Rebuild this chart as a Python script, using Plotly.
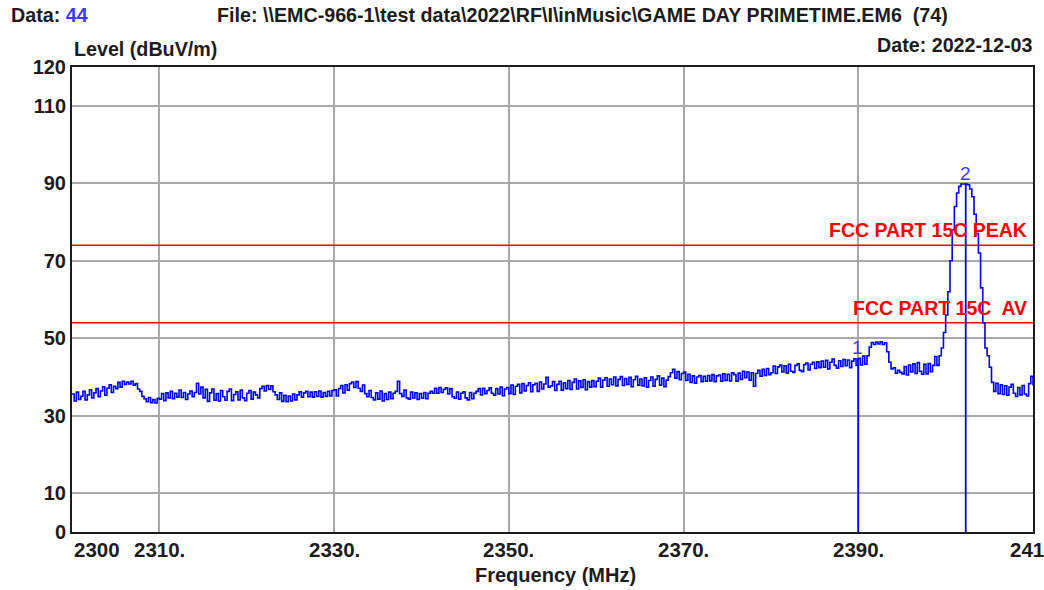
import plotly.graph_objects as go

# ---------------- data ----------------
f_start = 2300.0
f_step = 0.25
levels = [
    # 2300.00 - 2304.75
    35.6, 33.8, 36.1, 34.2, 35.0, 36.3, 34.1, 35.4, 36.7, 34.6, 35.9, 37.0, 34.9, 36.4, 37.5, 35.3, 37.1, 38.0, 36.0, 37.6,
    # 2305
    37.0, 38.6, 37.4, 38.9, 38.1, 38.7, 38.2, 38.9, 37.9, 38.3, 36.9, 36.3, 35.0, 34.4, 33.6, 34.7, 33.4, 34.2, 33.3, 34.5,
    # 2310
    34.3, 35.7, 33.9, 35.9, 34.6, 36.3, 34.4, 35.8, 34.8, 36.6, 34.7, 36.0, 34.2, 35.6, 36.4, 34.9, 36.0, 38.4, 35.6, 37.4,
    # 2315
    34.6, 36.8, 33.7, 35.9, 36.9, 34.0, 35.7, 33.8, 36.5, 34.9, 34.0, 36.3, 36.9, 33.9, 35.5, 36.2, 34.1, 36.6, 34.6, 33.9,
    # 2320
    35.8, 36.5, 34.3, 36.1, 35.4, 34.6, 37.0, 37.6, 36.4, 37.8, 36.8, 37.7, 36.2, 35.4, 34.2, 35.9, 33.7, 35.3, 33.6, 35.1,
    # 2325
    33.8, 35.6, 34.1, 35.4, 36.2, 34.8, 35.9, 36.3, 34.9, 36.1, 34.8, 36.2, 35.0, 36.4, 34.8, 36.0, 35.0, 36.3, 35.1, 36.5,
    # 2330
    36.7, 35.1, 37.0, 37.8, 35.9, 38.0, 36.6, 38.3, 38.7, 37.3, 38.8, 37.1, 36.3, 37.9, 35.7, 34.9, 36.5, 34.7, 34.1, 35.9,
    # 2335
    34.3, 36.4, 33.8, 35.7, 34.2, 36.1, 34.4, 35.8, 36.3, 38.9, 35.7, 35.0, 36.6, 34.6, 34.3, 36.1, 34.6, 35.9, 34.2, 35.7,
    # 2340
    34.5, 36.0, 34.4, 35.8, 36.3, 35.8, 37.1, 35.8, 37.3, 36.0, 36.8, 37.2, 35.6, 37.0, 34.9, 34.5, 36.1, 34.3, 35.8, 36.2,
    # 2345
    34.6, 34.1, 36.0, 34.4, 35.8, 36.3, 37.0, 35.4, 37.1, 35.7, 36.5, 37.2, 35.8, 35.3, 37.0, 35.6, 37.4, 35.2, 36.9, 37.3,
    # 2350
    35.7, 37.9, 35.5, 37.6, 38.1, 35.9, 38.3, 36.4, 37.8, 38.5, 36.2, 38.0, 38.4, 36.3, 38.7, 36.9, 38.2, 39.9, 37.4, 37.7,
    # 2355
    38.8, 36.5, 38.1, 38.9, 36.6, 38.5, 37.0, 39.1, 36.8, 38.6, 39.5, 36.9, 39.0, 37.3, 39.3, 36.7, 38.8, 37.4, 39.1, 37.5,
    # 2360
    38.9, 39.7, 37.4, 39.2, 39.8, 37.6, 39.5, 38.0, 40.0, 37.7, 39.4, 40.1, 37.8, 39.6, 38.1, 39.9, 37.5, 39.3, 40.2, 37.9,
    # 2365
    39.5, 37.7, 39.8, 37.4, 39.1, 40.0, 37.6, 39.4, 40.3, 37.9, 39.7, 37.5, 39.2, 40.1, 41.1, 42.0, 39.7, 41.4, 39.3, 40.9,
    # 2370
    41.3, 39.1, 40.7, 38.6, 40.3, 38.4, 40.0, 40.4, 38.8, 40.2, 38.9, 40.4, 39.0, 40.6, 38.8, 40.3, 40.5, 38.9, 40.8, 39.1,
    # 2375
    40.7, 39.0, 41.1, 40.6, 38.9, 41.0, 39.4, 41.5, 39.8, 41.3, 39.2, 41.1, 37.6, 40.9, 41.7, 40.2, 42.0, 40.4, 42.2, 40.6,
    # 2380
    41.1, 42.8, 40.9, 42.6, 43.1, 41.3, 42.9, 41.0, 43.3, 41.5, 41.2, 43.0, 43.4, 41.7, 41.4, 43.2, 43.6, 41.8, 43.3, 43.8,
    # 2385
    42.2, 43.9, 42.4, 44.1, 42.5, 44.3, 42.1, 43.8, 44.6, 43.0, 42.3, 44.2, 42.7, 44.5, 42.9, 44.4, 42.4, 44.1, 44.7, 43.0,
    # 2390
    44.8, 43.1, 45.4, 43.3, 45.5, 47.7, 48.9, 48.4, 49.0, 48.5, 49.1, 48.4, 48.8, 46.5, 43.8, 42.1, 42.4, 41.0, 41.7, 41.2,
    # 2395
    40.8, 42.7, 40.5, 43.1, 41.3, 43.4, 40.9, 43.7, 41.5, 40.7, 43.3, 40.8, 43.5, 41.4, 43.0, 45.3, 43.0, 45.5, 47.5, 51.5,
    # 2400
    56.0, 62.0, 70.0, 78.0, 84.0, 87.5, 89.2, 89.8, 89.8, 89.8, 89.6, 88.5, 86.5, 82.0, 77.0, 72.0, 63.0, 54.0, 47.5, 45.5,
    # 2405
    42.5, 38.6, 36.3, 38.4, 35.7, 38.0, 35.5, 37.7, 35.3, 37.4, 38.1, 35.8, 35.0, 37.3, 35.4, 37.8, 35.6, 35.1, 38.3, 40.2,
    # 2410
    37.8,
]
freqs = [f_start + i * f_step for i in range(len(levels))]

limit_names = ["FCC PART 15C PEAK", "FCC PART 15C\u00a0 AV"]
limit_values = [74, 54]

marker_labels = ["1", "2"]
marker_freqs = [2390.0, 2402.3]
marker_levels = [44.8, 89.8]

x_range = [2300, 2410]
y_range = [0, 120]
x_grid = [2310, 2330, 2350, 2370, 2390]
x_tick_vals = [2300, 2310, 2330, 2350, 2370, 2390, 2410]
x_tick_text = ["2300", "2310.", "2330.", "2350.", "2370.", "2390.", "2410"]
y_tick_vals = [0, 10, 30, 50, 70, 90, 110, 120]
y_tick_text = ["0", "10", "30", "50", "70", "90", "110", "120"]

# ---------------- style ----------------
FONT = "Liberation Sans, Arial, sans-serif"
DARK = "#1c1c1c"
BLUE = "#0000ff"
RED = "#ff0000"

W, H = 1044, 590
L, R, T, B = 72, 11, 67, 58
PW, PH = W - L - R, H - T - B


def px_x(px):
    return (px - L) / PW


def px_y(py):
    return (H - B - py) / PH


fig = go.Figure()

# limit lines
for name, val in zip(limit_names, limit_values):
    fig.add_trace(go.Scatter(x=x_range, y=[val, val], mode="lines",
                             line=dict(color=RED, width=1.6), hoverinfo="skip"))

# measured trace
fig.add_trace(go.Scatter(x=freqs, y=levels, mode="lines", line_shape="hv",
                         line=dict(color=BLUE, width=1.6)))

# marker vertical lines
for mf, ml in zip(marker_freqs, marker_levels):
    fig.add_trace(go.Scatter(x=[mf, mf], y=[0, ml], mode="lines",
                             line=dict(color=BLUE, width=1.8), hoverinfo="skip"))

annotations = []
# limit labels
for name, val in zip(limit_names, limit_values):
    annotations.append(dict(x=1, xref="paper", xanchor="right", xshift=-4,
                            y=val, yref="y", yanchor="bottom", yshift=2,
                            text=name, showarrow=False,
                            font=dict(family=FONT, size=19.5, color=RED, weight="bold")))
# marker labels
for lab, mf, ml in zip(marker_labels, marker_freqs, marker_levels):
    annotations.append(dict(x=mf, y=ml, xref="x", yref="y", xanchor="center",
                            yanchor="bottom", yshift=-2, xshift=-1 if lab == "1" else 0,
                            text=lab, showarrow=False,
                            font=dict(family=FONT, size=19, color="#3a3aff")))
# x tick labels
for v, t in zip(x_tick_vals, x_tick_text):
    annotations.append(dict(x=v, y=0, xref="x", yref="paper",
                            xanchor="left" if v == 2300 else "center",
                            yanchor="top", yshift=-4, text=t, showarrow=False,
                            font=dict(family=FONT, size=20.5, color=DARK, weight="bold")))
# axis titles and header texts
hdr = dict(family=FONT, size=19.7, color=DARK, weight="bold")
annotations += [
    dict(x=px_x(555), y=px_y(575), xref="paper", yref="paper",
         xanchor="center", yanchor="middle", showarrow=False,
         text="Frequency (MHz)", font=dict(family=FONT, size=20, color=DARK, weight="bold")),
    dict(x=px_x(9), y=px_y(15), xref="paper", yref="paper",
         xanchor="left", yanchor="middle", showarrow=False,
         text="Data: <span style='color:#3a3aff'>44</span>", font=hdr),
    dict(x=px_x(582), y=px_y(15), xref="paper", yref="paper",
         xanchor="center", yanchor="middle", showarrow=False,
         text="File: \\\\EMC-966-1\\test data\\2022\\RF\\I\\inMusic\\GAME DAY PRIMETIME.EM6\u00a0 (74)",
         font=hdr),
    dict(x=px_x(72), y=px_y(49), xref="paper", yref="paper",
         xanchor="left", yanchor="middle", showarrow=False,
         text="Level (dBuV/m)", font=hdr),
    dict(x=px_x(1034), y=px_y(45), xref="paper", yref="paper",
         xanchor="right", yanchor="middle", showarrow=False,
         text="Date: 2022-12-03", font=hdr),
]

fig.update_layout(
    width=W, height=H,
    margin=dict(l=L, r=R, t=T, b=B),
    paper_bgcolor="white", plot_bgcolor="white",
    showlegend=False,
    hovermode=False,
    annotations=annotations,
    xaxis=dict(range=x_range, tickvals=x_grid, showticklabels=False, ticks="",
               showgrid=True, gridcolor="#a8a8a8", gridwidth=2, zeroline=False,
               showline=True, linecolor="#1c1c1c", linewidth=2, mirror=True,
               automargin=False),
    yaxis=dict(range=y_range, tickvals=y_tick_vals, ticktext=y_tick_text,
               ticks="", ticklen=0, showgrid=True, gridcolor="#a8a8a8", gridwidth=2,
               zeroline=False, showline=True, linecolor="#1c1c1c", linewidth=2,
               mirror=True, automargin=False,
               tickfont=dict(family=FONT, size=20, color=DARK, weight="bold"),
               ticklabelstandoff=0),
)

fig.write_html(
    "out.html",
    config={"displayModeBar": False},
    post_script="document.body.style.margin='0';document.body.style.overflow='hidden';",
)
